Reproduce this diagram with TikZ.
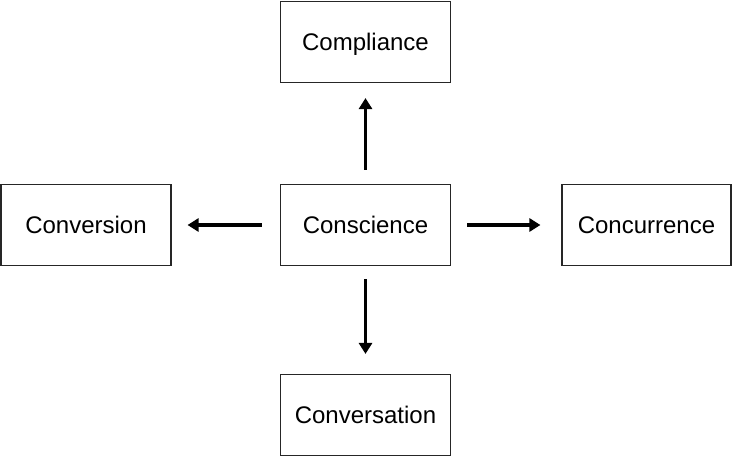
\documentclass[tikz,border=0pt]{standalone}
\usepackage{fontspec}
\setmainfont{Liberation Sans}
\usetikzlibrary{arrows.meta}
\begin{document}
\begin{tikzpicture}[x=1pt,y=-1pt,
  box/.style={draw=black!85, line width=1.1pt, inner sep=0pt, minimum width=170pt, minimum height=81pt, text height=17pt, text depth=0pt, font=\fontsize{24}{28}\selectfont},
  conn/.style={line width=3.3pt, -{Triangle[length=11pt,width=13pt]}}]
\useasboundingbox (0,0) rectangle (733,457);
\node[box] (cons) at (365.5,225) {Conscience};
\node[box] (comp) at (365.5,42) {Compliance};
\node[box] (conv) at (86,225) {Conversion};
\node[box, minimum width=169pt] (conc) at (646.5,225) {Concurrence};
\node[box] (cvst) at (365.5,415) {Conversation};
\draw[conn, shorten <=14pt, shorten >=15pt] (cons.north) -- (comp.south);
\draw[conn, shorten <=18pt, shorten >=16pt] (cons.west) -- (conv.east);
\draw[conn, shorten <=16pt, shorten >=21pt] (cons.east) -- (conc.west);
\draw[conn, shorten <=13pt, shorten >=20pt] (cons.south) -- (cvst.north);
\end{tikzpicture}
\end{document}
